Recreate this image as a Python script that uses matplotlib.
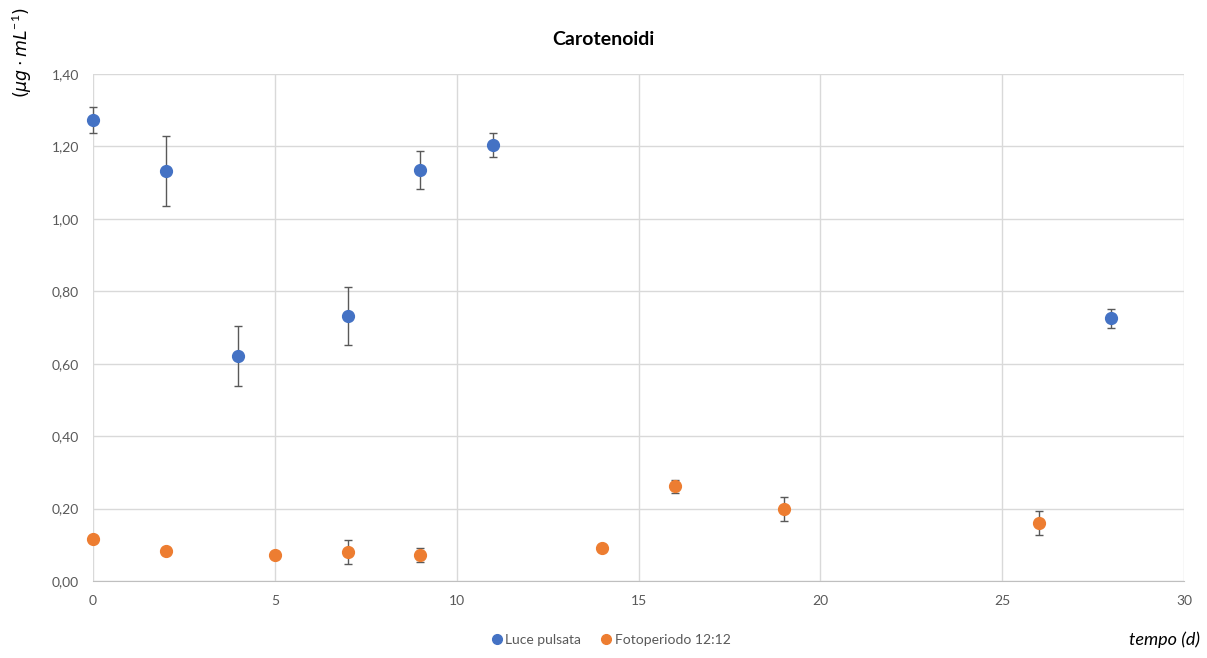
import matplotlib
matplotlib.use('Agg')
import matplotlib.pyplot as plt
from matplotlib.lines import Line2D
from matplotlib.ticker import FuncFormatter, MultipleLocator

plt.rcParams['font.family'] = ['Lato', 'DejaVu Sans']

# Luce pulsata
x_luce = [0, 2, 4, 7, 9, 11, 28]
y_luce = [1.273, 1.132, 0.621, 0.732, 1.135, 1.204, 0.726]
e_luce = [0.036, 0.097, 0.083, 0.080, 0.052, 0.034, 0.026]

# Fotoperiodo 12:12
x_foto = [0, 2, 5, 7, 9, 14, 16, 19, 26]
y_foto = [0.116, 0.083, 0.072, 0.080, 0.072, 0.091, 0.262, 0.199, 0.160]
e_foto = [0, 0, 0, 0.033, 0.020, 0, 0.018, 0.034, 0.033]

blue = '#4472C4'
orange = '#ED7D31'
grey = '#595959'

fig = plt.figure(figsize=(12.07, 6.58), dpi=100)
ax = fig.add_axes([0.077, 0.117, 0.904, 0.7705])

for xs, ys, es, c in [(x_luce, y_luce, e_luce, blue), (x_foto, y_foto, e_foto, orange)]:
    ax.errorbar(xs, ys, yerr=es, fmt='none', ecolor=grey, elinewidth=1,
                capsize=3, capthick=1, zorder=3, clip_on=False)
    ax.plot(xs, ys, 'o', color=c, ms=8.5, zorder=4, clip_on=False)

ax.set_xlim(0, 30)
ax.set_ylim(0, 1.4)
ax.xaxis.set_major_locator(MultipleLocator(5))
ax.yaxis.set_major_locator(MultipleLocator(0.2))
ax.yaxis.set_major_formatter(FuncFormatter(lambda v, p: f'{v:.2f}'.replace('.', ',')))
ax.grid(True, color='#D9D9D9', linewidth=1, zorder=0)
ax.set_axisbelow(True)
for s in ['top', 'right', 'left']:
    ax.spines[s].set_visible(False)
ax.spines['bottom'].set_color('#BFBFBF')
ax.tick_params(length=0, colors=grey, labelsize=10, pad=10)

fig.text(0.5, 0.94, 'Carotenoidi', ha='center', va='center',
         fontsize=14, fontweight='bold', color='black')
fig.text(0.018, 0.92, r'$(\mu g\cdot mL^{\mathregular{-1}})$', rotation=90,
         ha='center', va='center', fontsize=12.5, color='black')
fig.text(0.965, 0.015, 'tempo (d)', ha='center', va='bottom',
         fontsize=13, style='italic', color='black')

handles = [Line2D([], [], ls='none', marker='o', color=blue, ms=7),
           Line2D([], [], ls='none', marker='o', color=orange, ms=7)]
leg = fig.legend(handles, ['Luce pulsata', 'Fotoperiodo 12:12'],
                 loc='lower center', bbox_to_anchor=(0.505, 0.0), ncol=2,
                 frameon=False, fontsize=10, handletextpad=0.0,
                 handlelength=1.2, columnspacing=1.2)
for t in leg.get_texts():
    t.set_color(grey)

fig.savefig('out.png', dpi=100)
